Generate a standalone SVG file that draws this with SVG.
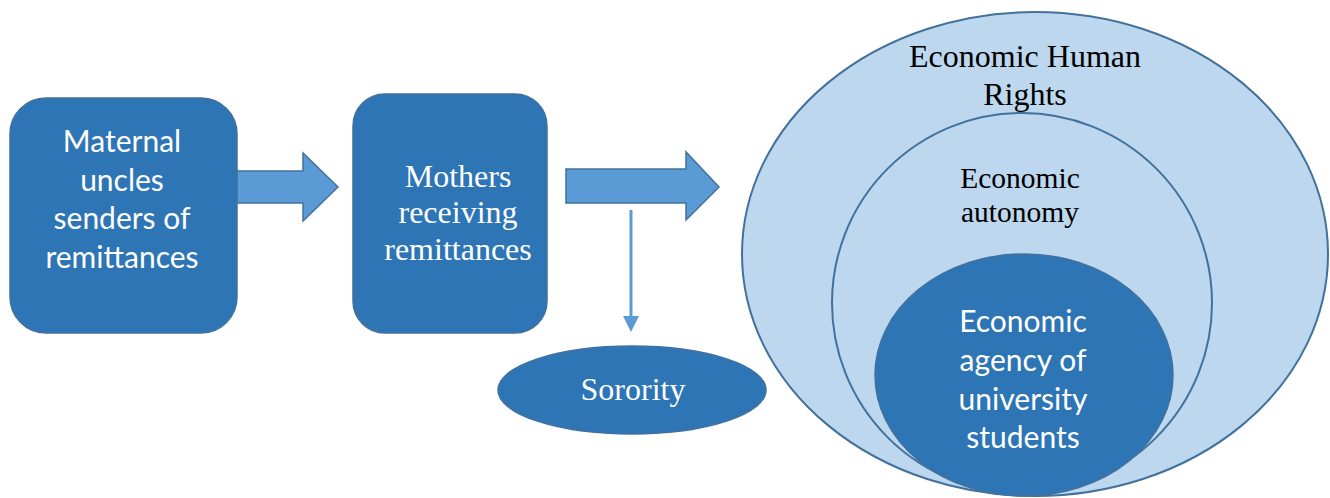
<svg xmlns="http://www.w3.org/2000/svg" width="1330" height="498" viewBox="0 0 1330 498">
<style>
.dark{fill:#2E75B6;stroke:#41719C;stroke-width:1.5}
.light{fill:#BDD7EE;stroke:#41719C;stroke-width:2}
.blk{fill:#5B9BD5;stroke:#41719C;stroke-width:1.5}
.sans{font-family:Lato,"Liberation Sans",sans-serif;font-size:30px;fill:#fff;text-anchor:middle}
.serifw{font-family:"Liberation Serif",serif;font-size:32px;fill:#fff;text-anchor:middle}
.serifb{font-family:"Liberation Serif",serif;fill:#000;text-anchor:middle}
</style>
<g id="node-uncles">
<rect class="dark" x="10" y="98" width="227" height="235" rx="36" ry="36"/>
<text class="sans"><tspan x="122" y="152">Maternal</tspan><tspan x="122" y="191">uncles</tspan><tspan x="122" y="229">senders of</tspan><tspan x="122" y="268">remittances</tspan></text>
</g>
<g id="node-mothers">
<rect class="dark" x="353" y="94" width="194" height="239" rx="32" ry="32"/>
<text class="serifw"><tspan x="458" y="187">Mothers</tspan><tspan x="458" y="223">receiving</tspan><tspan x="458" y="260">remittances</tspan></text>
</g>
<g id="node-sorority">
<ellipse class="dark" cx="632" cy="390" rx="134" ry="44"/>
<text class="serifw" x="633" y="400">Sorority</text>
</g>
<g id="node-rights">
<ellipse class="light" cx="1035" cy="254" rx="293" ry="242"/>
<text class="serifb" font-size="32"><tspan x="1025" y="67">Economic Human</tspan><tspan x="1025" y="105">Rights</tspan></text>
</g>
<g id="node-autonomy">
<ellipse class="light" cx="1022" cy="303" rx="190" ry="190"/>
<text class="serifb" font-size="29.5"><tspan x="1020" y="188">Economic</tspan><tspan x="1020" y="222">autonomy</tspan></text>
</g>
<g id="node-agency">
<ellipse class="dark" cx="1024" cy="375" rx="149" ry="121"/>
<text class="sans"><tspan x="1023" y="332">Economic</tspan><tspan x="1023" y="371">agency of</tspan><tspan x="1023" y="410">university</tspan><tspan x="1023" y="448">students</tspan></text>
</g>
<g id="connectors">
<path class="blk" d="M237,171 L303,171 L303,153 L338,187 L303,221 L303,203 L237,203 Z"/>
<path class="blk" d="M566,169 L686,169 L686,152 L719,187 L686,220 L686,203 L566,203 Z"/>
<line x1="631" y1="210" x2="631" y2="316" stroke="#5B9BD5" stroke-width="3"/>
<path d="M623,316 L639,316 L631,332 Z" fill="#5B9BD5"/>
</g>
</svg>
